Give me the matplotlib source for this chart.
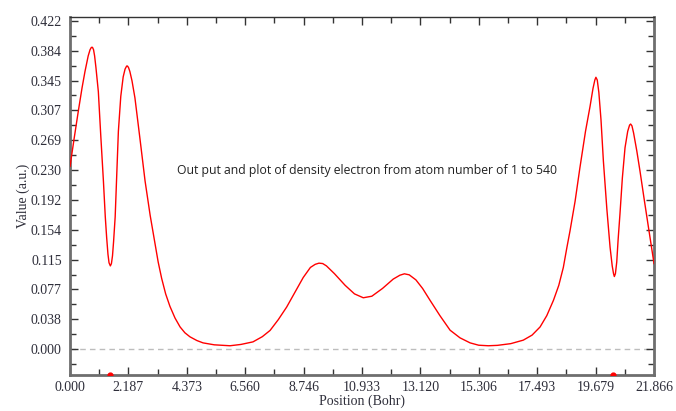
import numpy as np
import matplotlib
matplotlib.use("Agg")
import matplotlib.pyplot as plt
from matplotlib.ticker import FixedLocator, AutoMinorLocator

# Electron density along the chain
position = [
    0.00, 0.15, 0.31, 0.45, 0.56, 0.68, 0.75, 0.80, 0.84, 0.88, 0.92, 0.97,
    1.06, 1.15, 1.25, 1.32, 1.37, 1.42, 1.46, 1.51, 1.55, 1.59, 1.63, 1.69,
    1.75, 1.81, 1.90, 1.99, 2.06, 2.12, 2.15, 2.19, 2.24, 2.32, 2.43, 2.62,
    2.81, 3.00, 3.18, 3.30, 3.43, 3.58, 3.74, 3.93, 4.12, 4.30,
    4.49, 4.75, 4.98, 5.40, 5.99, 6.40, 6.85, 7.20, 7.49, 7.80,
    8.11, 8.42, 8.73, 9.00, 9.18, 9.32, 9.46, 9.60, 9.90, 10.30, 10.65,
    10.98, 11.30, 11.70, 12.10, 12.35, 12.52, 12.70, 12.95, 13.20, 13.48, 13.85, 14.23,
    14.60, 14.98, 15.30, 15.66, 16.00, 16.50, 16.97, 17.30, 17.60, 17.85,
    18.10, 18.30, 18.47, 18.60, 18.72, 18.91, 19.09, 19.30, 19.47, 19.58,
    19.65, 19.69, 19.74, 19.80, 19.88, 19.97, 20.10, 20.22, 20.30, 20.35, 20.38,
    20.42, 20.47, 20.52, 20.59, 20.68, 20.78, 20.88, 20.95, 20.99, 21.04, 21.10,
    21.22, 21.34, 21.50, 21.66, 21.866,
]
density = [
    0.235, 0.270, 0.306, 0.336, 0.357, 0.377, 0.385, 0.388, 0.388, 0.385, 0.377, 0.362,
    0.331, 0.275, 0.216, 0.170, 0.144, 0.122, 0.111, 0.107, 0.110, 0.120, 0.138, 0.170,
    0.225, 0.280, 0.325, 0.350, 0.360, 0.364, 0.364, 0.362, 0.357, 0.345, 0.323, 0.270,
    0.216, 0.172, 0.136, 0.112, 0.091, 0.071, 0.055, 0.040, 0.0285, 0.021,
    0.0158, 0.011, 0.008, 0.0055, 0.0043, 0.006, 0.0093, 0.016, 0.024, 0.038,
    0.054, 0.073, 0.092, 0.105, 0.109, 0.1105, 0.110, 0.107, 0.097, 0.082, 0.071,
    0.066, 0.068, 0.078, 0.090, 0.095, 0.0968, 0.0955, 0.089, 0.078, 0.0627, 0.043, 0.0243,
    0.0145, 0.008, 0.005, 0.0043, 0.0048, 0.007, 0.0115, 0.018, 0.0285, 0.043,
    0.0627, 0.082, 0.105, 0.130, 0.152, 0.190, 0.233, 0.280, 0.312, 0.335,
    0.346, 0.3495, 0.346, 0.330, 0.295, 0.2417, 0.180, 0.131, 0.107, 0.097, 0.0933,
    0.097, 0.112, 0.140, 0.1735, 0.220, 0.259, 0.280, 0.288, 0.2894, 0.287, 0.278,
    0.255, 0.229, 0.192, 0.156, 0.110,
]
marker_pos = [1.50, 20.34]

x_ticks = [0.000, 2.187, 4.373, 6.560, 8.746, 10.933, 13.120, 15.306, 17.493, 19.679, 21.866]
y_ticks = [0.000, 0.038, 0.077, 0.115, 0.154, 0.192, 0.230, 0.269, 0.307, 0.345, 0.384, 0.422]

fig = plt.figure(figsize=(6.76, 4.11), dpi=100)
ax = fig.add_axes([0.1036, 0.0876, 0.8639, 0.871])

ax.axhline(0, color="#bdbdbd", lw=1, ls=(0, (4, 3)), zorder=1)
ax.plot(position, density, color="red", lw=1, zorder=3)

ymin, ymax = -0.0333, 0.427
ax.scatter(marker_pos, [ymin] * len(marker_pos), s=12, color="red", zorder=4, clip_on=True)

ax.set_xlim(0, 21.866)
ax.set_ylim(ymin, ymax)
ax.xaxis.set_major_locator(FixedLocator(np.linspace(0, 21.866, 11)))
ax.yaxis.set_major_locator(FixedLocator(np.arange(12) * 0.422 / 11))
ax.set_xticklabels([f"{v:.3f}" for v in x_ticks])
ax.set_yticklabels([f"{v:.3f}" for v in y_ticks])
ax.xaxis.set_minor_locator(AutoMinorLocator(2))
ax.yaxis.set_minor_locator(AutoMinorLocator(2))

ax.tick_params(which="both", direction="in", top=True, right=True, colors="#333333",
               labelcolor="#2e2e3a", labelsize=10, width=1)
ax.tick_params(which="major", length=6)
ax.tick_params(which="minor", length=4)
ax.tick_params(axis="x", pad=4)
ax.tick_params(axis="y", pad=6)
for lab in ax.get_xticklabels() + ax.get_yticklabels():
    lab.set_family("Liberation Serif")

for side in ["left", "bottom", "right"]:
    ax.spines[side].set_color("#6e6e6e")
    ax.spines[side].set_linewidth(2)
ax.spines["top"].set_color("#333333")
ax.spines["top"].set_linewidth(1)

ax.set_xlabel("Position (Bohr)", family="Liberation Serif", fontsize=10, color="#2e2e3a", labelpad=1)
ax.set_ylabel("Value (a.u.)", family="Liberation Serif", fontsize=10, color="#2e2e3a", labelpad=0)

ax.text(11.13, 0.230, "Out put and plot of density electron from atom number of 1 to 540",
        family="Open Sans", fontsize=8.85, color="#222222", ha="center", va="center")

fig.savefig("out.png", dpi=100)
